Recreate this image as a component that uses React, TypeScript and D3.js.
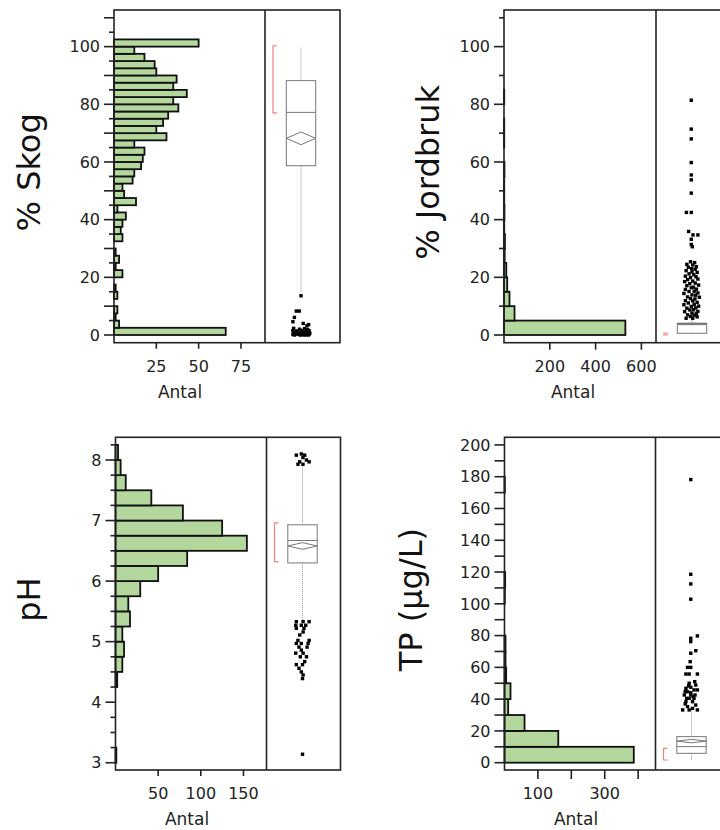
import React from "react";
import * as d3 from "d3";

// ---------- DATA ----------
// % Skog histogram (bin width 2.5, starting at 0)
const skogBinWidth = 2.5;
const skogCounts = [66, 3, 1, 2, 0, 2, 1, 0, 5, 1, 3, 1, 0, 5, 4, 5, 7, 2, 13, 6, 5, 11, 12, 16, 17, 18, 12, 31, 25, 29, 32, 38, 35, 43, 35, 37, 25, 24, 18, 12, 50];
const skogBox = { q1: 58.7, median: 77.2, q3: 88.2, mean: 68.2, meanHalf: 2.2, lo: 14.8, hi: 100, shortLo: 77, shortHi: 100.3 };
const skogOutliers: [number, number][] = [
  [13.6, 0], [8.3, -0.32], [8.3, -0.12], [6.1, -0.45], [4.6, -0.55], [4.0, 0.15], [3.2, 0.4], [3.6, 0.52],
  [2.3, -0.5], [2.0, -0.1], [2.2, 0.25], [1.5, -0.55], [1.4, -0.3], [1.6, 0.05], [1.2, 0.35], [1.5, 0.55],
  [0.8, -0.5], [0.9, -0.2], [0.7, 0.1], [0.8, 0.4], [0.6, 0.6], [0.2, -0.55], [0.3, -0.3], [0.1, -0.1],
  [0.2, 0.15], [0.1, 0.35], [0.3, 0.55], [0, -0.45], [0, 0], [0, 0.25], [0, 0.5], [0.5, -0.05], [1.0, 0.2], [1.9, 0.45],
];

// % Jordbruk histogram (bin width 5)
const jordBinWidth = 5;
const jordCounts = [530, 46, 24, 14, 10, 3, 4, 1, 2, 1, 1, 2, 0, 1, 1, 0, 1];
const jordBox = { q1: 0.6, median: 3.6, q3: 4.1, mean: 3.85, meanHalf: 0.25, lo: 0, hi: 9, shortLo: 0, shortHi: 0.6 };
const jordOutliers: [number, number][] = [
  [81.4, -0.05], [71.4, -0.05], [68.0, -0.05], [59.8, -0.05], [55.5, -0.05], [53.8, -0.05], [49.2, -0.05],
  [42.5, -0.38], [42.5, -0.05], [35.9, -0.23], [34.7, 0.07], [34.7, 0.4], [33.2, -0.05], [31.4, -0.05], [30.6, 0.02],
  [25.4, -0.1], [25.1, 0.18], [24.5, -0.35], [24.3, 0.05], [23.7, 0.3], [23.5, -0.25], [23.0, -0.02], [22.8, 0.22],
  [22.3, -0.4], [21.9, 0.0], [21.7, 0.35], [21.2, -0.2], [20.9, 0.12], [20.4, -0.45], [20.2, 0.27], [19.9, -0.1],
  [19.4, 0.4], [19.2, -0.3], [18.7, 0.05], [18.5, -0.5], [18.0, 0.22], [17.8, -0.15], [17.3, 0.45], [17.1, -0.35],
  [16.6, 0.1], [16.4, -0.05], [15.9, 0.3], [15.8, -0.45], [15.2, 0.15], [15.1, -0.2], [14.6, 0.4], [14.4, -0.55],
  [13.9, 0.0], [13.8, 0.25], [13.2, -0.3], [13.1, 0.5], [12.6, -0.1], [12.5, 0.2], [11.9, -0.45], [11.8, 0.05],
  [11.3, 0.35], [11.1, -0.25], [10.6, 0.15], [10.5, -0.55], [10.0, 0.45], [9.9, -0.05], [9.4, 0.25], [9.3, -0.35],
  [8.8, 0.1], [8.7, -0.15], [8.2, 0.4], [8.1, -0.5], [7.6, 0.0], [7.5, 0.3], [7.0, -0.3], [6.9, 0.15], [6.4, -0.1],
  [6.3, 0.35], [5.8, -0.4], [5.8, 0.05],
];

// pH histogram (bin width 0.25, starting at 3)
const phBinStart = 3;
const phBinWidth = 0.25;
const phCounts = [1, 0, 0, 0, 0, 2, 8, 10, 8, 17, 15, 29, 50, 84, 154, 125, 79, 42, 12, 6, 3];
const phBox = { q1: 6.3, median: 6.67, q3: 6.93, mean: 6.58, meanHalf: 0.055, lo: 5.36, hi: 7.9, shortLo: 6.32, shortHi: 6.96 };
const phOutliers: [number, number][] = [
  [8.08, -0.42], [8.1, -0.08], [8.04, 0.03], [8.0, 0.27], [7.97, 0.45], [7.97, -0.19], [7.93, 0.03], [7.93, -0.31], [8.08, 0.15],
  [5.33, -0.42], [5.33, 0.04], [5.33, 0.45], [5.27, -0.46], [5.27, -0.08], [5.27, 0.22], [5.22, -0.42], [5.22, 0.1],
  [5.16, 0.04], [5.11, -0.19], [5.02, -0.31], [5.02, 0.45], [4.97, -0.42], [4.97, -0.08], [4.97, 0.38], [4.91, -0.24],
  [4.91, 0.31], [4.86, -0.08], [4.81, -0.46], [4.81, 0.04], [4.75, -0.15], [4.75, 0.27], [4.67, 0.15], [4.62, -0.42],
  [4.62, 0.0], [4.56, -0.24], [4.5, -0.08], [4.45, 0.04], [4.39, 0.0], [3.14, 0.0],
];

// TP histogram (bin width 10)
const tpBinWidth = 10;
const tpCounts = [387, 161, 60, 11, 18, 5, 3, 3, 0, 0, 1, 2, 0, 0, 0, 0, 0, 1];
const tpBox = { q1: 5.9, median: 10.1, q3: 16.4, mean: 13.6, meanHalf: 1.1, lo: 1.7, hi: 33.2, shortLo: 1.7, shortHi: 9 };
const tpOutliers: [number, number][] = [
  [178.2, -0.05], [118.6, -0.05], [112.5, -0.05], [102.9, -0.05],
  [79.8, 0.4], [78.3, -0.05], [76.2, -0.05], [70.5, 0.29], [68.9, -0.05], [63.6, -0.09], [60, -0.27], [60, -0.05],
  [55.8, -0.38], [55.8, -0.16], [55.8, 0.4], [51, 0.22], [50, -0.16], [48.9, 0.29], [48.3, -0.2], [47.5, -0.05],
  [46.8, -0.38], [45.8, 0.17], [45.8, 0.4], [44.7, -0.27], [44.7, -0.43], [44, -0.05], [42.6, -0.49], [42.6, -0.05],
  [42.6, 0.24], [41.5, 0.11], [40.5, -0.16], [40.5, 0.17], [40.5, -0.33], [38.4, -0.38], [38.4, 0.07], [37, -0.43],
  [36.3, 0.29], [35.3, -0.27], [34.2, 0.07], [33.2, -0.6], [33.2, -0.16], [33.2, 0.4],
];

// Tick values
const skogXTicks = [25, 50, 75];
const jordXTicks = [200, 400, 600];
const phXTicks = [50, 100, 150];
const tpXTicks = [100, 200, 300, 400];
const tpXLabels = [100, 300];

// ---------- PANEL ----------
type Box = { q1: number; median: number; q3: number; mean: number; meanHalf: number; lo: number; hi: number; shortLo: number; shortHi: number };

type PanelProps = {
  left: number; right: number; divider: number; top: number; bottom: number;
  yDomain: [number, number]; xMax: number;
  binStart: number; binWidth: number; counts: number[];
  yTicks: { v: number; long: boolean; label: boolean }[];
  xTicks: number[]; xLabels: number[]; xTickLen: number;
  box: Box; outliers: [number, number][];
  title: string; titleX: number; antalX: number;
};

const FONT = "'DejaVu Sans', Verdana, sans-serif";

function Panel(p: PanelProps) {
  const y = d3.scaleLinear().domain(p.yDomain).range([p.bottom, p.top]);
  const x = d3.scaleLinear().domain([0, p.xMax]).range([p.left, p.divider]);
  const cx = p.divider + 36;
  const hw = 14.7;
  const bins = p.counts.map((c, i) => ({ c, lo: p.binStart + i * p.binWidth, hi: p.binStart + (i + 1) * p.binWidth }));
  const b = p.box;
  const titleY = (p.top + p.bottom) / 2 - 4;
  return (
    <g>
      {/* histogram bars */}
      {bins.filter(d => d.c > 0).map((d, i) => (
        <rect key={i} x={x(0)} y={y(d.hi)} width={x(d.c) - x(0)} height={y(d.lo) - y(d.hi)}
          fill="#b3d79c" stroke="#111" strokeWidth={1.8} />
      ))}
      {/* frame */}
      <rect x={p.left} y={p.top} width={p.right - p.left} height={p.bottom - p.top} fill="none" stroke="#222" strokeWidth={1.6} />
      <line x1={p.divider} x2={p.divider} y1={p.top} y2={p.bottom} stroke="#222" strokeWidth={1.6} />
      {/* y ticks */}
      {p.yTicks.map((t, i) => (
        <g key={i}>
          <line x1={p.left - (t.long ? 10 : 5)} x2={p.left} y1={y(t.v)} y2={y(t.v)} stroke="#222" strokeWidth={1.6} />
          {t.label && (
            <text x={p.left - 14} y={y(t.v)} dy="0.36em" textAnchor="end" fontSize={16} fill="#222" fontFamily={FONT}>{t.v}</text>
          )}
        </g>
      ))}
      {/* x ticks */}
      {p.xTicks.map((t, i) => (
        <line key={i} x1={x(t)} x2={x(t)} y1={p.bottom} y2={p.bottom + p.xTickLen} stroke="#222" strokeWidth={1.6} />
      ))}
      {p.xLabels.map((t, i) => (
        <text key={i} x={x(t)} y={p.bottom + 29} textAnchor="middle" fontSize={16} fill="#222" fontFamily={FONT}>{t}</text>
      ))}
      <text x={p.antalX} y={p.bottom + 55} textAnchor="middle" fontSize={17} fill="#222" fontFamily={FONT}>Antal</text>
      {/* title */}
      <text transform={`translate(${p.titleX},${titleY}) rotate(-90)`} textAnchor="middle" fontSize={32} fill="#111" fontFamily={FONT}>{p.title}</text>
      {/* shortest half bracket */}
      <path d={`M${p.divider + 12},${y(b.shortHi)}H${p.divider + 8}V${y(b.shortLo)}H${p.divider + 12}`} fill="none" stroke="#f08080" strokeWidth={1.2} />
      {/* whiskers */}
      <line x1={cx} x2={cx} y1={y(b.q3)} y2={y(b.hi)} stroke="#999" strokeWidth={1} strokeDasharray="1,1" />
      <line x1={cx} x2={cx} y1={y(b.q1)} y2={y(b.lo)} stroke="#999" strokeWidth={1} strokeDasharray="1,1" />
      {/* box */}
      <rect x={cx - hw} y={y(b.q3)} width={2 * hw} height={y(b.q1) - y(b.q3)} fill="white" stroke="#777" strokeWidth={1} />
      <line x1={cx - hw} x2={cx + hw} y1={y(b.median)} y2={y(b.median)} stroke="#777" strokeWidth={1} />
      <path d={`M${cx - hw},${y(b.mean)}L${cx},${y(b.mean + b.meanHalf)}L${cx + hw},${y(b.mean)}L${cx},${y(b.mean - b.meanHalf)}Z`} fill="none" stroke="#777" strokeWidth={1} />
      {/* outliers */}
      {p.outliers.map((o, i) => (
        <rect key={i} x={cx + o[1] * hw - 1.7} y={y(o[0]) - 1.7} width={3.4} height={3.4} fill="#000" />
      ))}
    </g>
  );
}

function ticks(from: number, to: number, step: number, longEvery: number, labelEvery: number, labelMax: number) {
  return d3.range(from, to + step / 2, step).map(v => {
    const r = Math.round(v * 1000) / 1000;
    const isLong = Math.abs(r / longEvery - Math.round(r / longEvery)) < 1e-6;
    const isLab = Math.abs(r / labelEvery - Math.round(r / labelEvery)) < 1e-6 && r <= labelMax;
    return { v: r, long: isLong, label: isLab };
  });
}

export default function App() {
  return (
    <svg width={720} height={830} style={{ position: "absolute", left: 0, top: 0, background: "white" }}>
      <Panel left={114} right={340} divider={265} top={10} bottom={342.7}
        yDomain={[-2.67, 112.7]} xMax={89.2} binStart={0} binWidth={skogBinWidth} counts={skogCounts}
        yTicks={ticks(0, 110, 5, 10, 20, 100)} xTicks={skogXTicks} xLabels={skogXTicks} xTickLen={6}
        box={skogBox} outliers={skogOutliers} title="% Skog" titleX={40} antalX={180} />
      <Panel left={504} right={731} divider={656} top={10} bottom={342.7}
        yDomain={[-2.67, 112.7]} xMax={663.8} binStart={0} binWidth={jordBinWidth} counts={jordCounts}
        yTicks={ticks(0, 110, 10, 20, 20, 100)} xTicks={jordXTicks} xLabels={jordXTicks} xTickLen={7}
        box={jordBox} outliers={jordOutliers} title="% Jordbruk" titleX={439} antalX={573} />
      <Panel left={115.5} right={340.5} divider={266.5} top={437.3} bottom={770}
        yDomain={[2.88, 8.375]} xMax={177} binStart={phBinStart} binWidth={phBinWidth} counts={phCounts}
        yTicks={ticks(3, 8.25, 0.25, 1, 1, 8)} xTicks={phXTicks} xLabels={phXTicks} xTickLen={6}
        box={phBox} outliers={phOutliers} title="pH" titleX={40} antalX={187} />
      <Panel left={504.5} right={731} divider={655.5} top={437.3} bottom={770}
        yDomain={[-4.6, 204.8]} xMax={452} binStart={0} binWidth={tpBinWidth} counts={tpCounts}
        yTicks={ticks(0, 200, 10, 10, 20, 200)} xTicks={tpXTicks} xLabels={tpXLabels} xTickLen={9}
        box={tpBox} outliers={tpOutliers} title="TP (µg/L)" titleX={422} antalX={576} />
    </svg>
  );
}
